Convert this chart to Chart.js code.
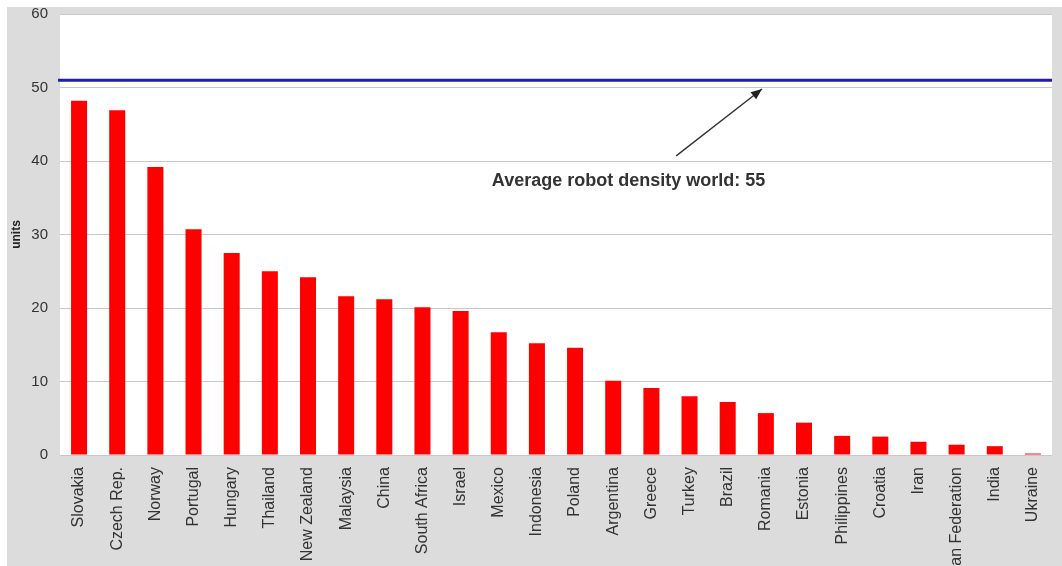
<!DOCTYPE html>
<html>
<head>
<meta charset="utf-8">
<script src="https://cdn.jsdelivr.net/npm/chart.js@4.4.1/dist/chart.umd.min.js"></script>
<style>
  html, body { margin: 0; padding: 0; background: #ffffff; }
  #frame { position: absolute; left: 7px; top: 7px; width: 1055px; height: 559px; background: #dcdcdc; overflow: hidden; }
  #wrap { position: relative; width: 1055px; height: 620px; }
</style>
</head>
<body>
<div id="frame"><div id="wrap"><canvas id="c"></canvas></div></div>
<script>
// Robot density per country (units)
const countries = ["Slovakia", "Czech Rep.", "Norway", "Portugal", "Hungary", "Thailand", "New Zealand",
  "Malaysia", "China", "South Africa", "Israel", "Mexico", "Indonesia", "Poland", "Argentina", "Greece",
  "Turkey", "Brazil", "Romania", "Estonia", "Philippines", "Croatia", "Iran", "Russian Federation", "India", "Ukraine"];
const density = [48.2, 46.9, 39.2, 30.7, 27.5, 25.0, 24.2, 21.6, 21.2, 20.1, 19.6, 16.7, 15.2, 14.6,
  10.1, 9.1, 8.0, 7.2, 5.7, 4.4, 2.6, 2.5, 1.8, 1.4, 1.2, 0.2];
const yTicks = [0, 10, 20, 30, 40, 50, 60];
// Reference line drawn across the plot
const worldLine = [51];
const worldNote = ["Average robot density world: 55"];
// Note placement in data units: [category index, value]
const noteTextAt = [14.4, 37.3];
const arrowFrom = [15.65, 40.7];
const arrowTo = [17.9, 49.8];

const FONT = '"Liberation Sans", Arial, sans-serif';

const plotBackground = {
  id: 'plotBackground',
  beforeDraw(chart) {
    const { ctx, chartArea: a } = chart;
    ctx.save();
    ctx.fillStyle = '#ffffff';
    ctx.fillRect(a.left, a.top, a.right - a.left, a.bottom - a.top);
    ctx.restore();
  }
};

const worldMarker = {
  id: 'worldMarker',
  afterDatasetsDraw(chart) {
    const { ctx, chartArea: a, scales: { x, y } } = chart;
    ctx.save();
    const yy = y.getPixelForValue(worldLine[0]);
    ctx.strokeStyle = '#1f1fa8';
    ctx.lineWidth = 3;
    ctx.beginPath();
    ctx.moveTo(a.left - 2, yy);
    ctx.lineTo(a.right, yy);
    ctx.stroke();

    // arrow pointing at the line
    const x0 = x.getPixelForValue(arrowFrom[0]), y0 = y.getPixelForValue(arrowFrom[1]);
    const x1 = x.getPixelForValue(arrowTo[0]), y1 = y.getPixelForValue(arrowTo[1]);
    ctx.strokeStyle = '#333333';
    ctx.fillStyle = '#222222';
    ctx.lineWidth = 1.4;
    ctx.beginPath();
    ctx.moveTo(x0, y0);
    ctx.lineTo(x1, y1);
    ctx.stroke();
    const ang = Math.atan2(y1 - y0, x1 - x0);
    const L = 11, W = 4.5;
    ctx.beginPath();
    ctx.moveTo(x1, y1);
    ctx.lineTo(x1 - L * Math.cos(ang) + W * Math.sin(ang), y1 - L * Math.sin(ang) - W * Math.cos(ang));
    ctx.lineTo(x1 - L * Math.cos(ang) - W * Math.sin(ang), y1 - L * Math.sin(ang) + W * Math.cos(ang));
    ctx.closePath();
    ctx.fill();

    ctx.fillStyle = '#333333';
    ctx.font = 'bold 18px ' + FONT;
    ctx.textAlign = 'center';
    ctx.textBaseline = 'middle';
    ctx.fillText(worldNote[0], x.getPixelForValue(noteTextAt[0]), y.getPixelForValue(noteTextAt[1]));
    ctx.restore();
  }
};

new Chart(document.getElementById('c'), {
  type: 'bar',
  data: {
    labels: countries,
    datasets: [{
      data: density,
      backgroundColor: '#ff0000',
      borderWidth: 0,
      barPercentage: 0.42,
      categoryPercentage: 1.0
    }]
  },
  options: {
    responsive: true,
    maintainAspectRatio: false,
    animation: false,
    layout: { padding: { top: 7, right: 10, left: 0, bottom: 0 } },
    plugins: { legend: { display: false }, tooltip: { enabled: false } },
    scales: {
      x: {
        offset: true,
        grid: { display: false, drawTicks: false },
        border: { display: false },
        ticks: {
          autoSkip: false, maxRotation: 90, minRotation: 90, padding: 12,
          color: '#333333', font: { family: FONT, size: 16 }
        },
        afterFit(s) { s.height = 620 - 448; s.paddingLeft = 0; s.paddingRight = 0; }
      },
      y: {
        min: 0, max: 60,
        afterBuildTicks(s) { s.ticks = yTicks.map(v => ({ value: v })); },
        grid: { color: '#c8c8c8', lineWidth: 1, drawTicks: false },
        border: { display: false },
        ticks: {
          padding: 12, color: '#333333',
          font: { family: FONT, size: 15 }
        },
        title: {
          display: true, text: 'units', color: '#222222', padding: 2,
          font: { family: FONT, size: 12, weight: 'bold' }
        },
        afterFit(s) { s.width = 53; s.paddingTop = 0; s.paddingBottom = 0; }
      }
    }
  },
  plugins: [plotBackground, worldMarker]
});
</script>
</body>
</html>
